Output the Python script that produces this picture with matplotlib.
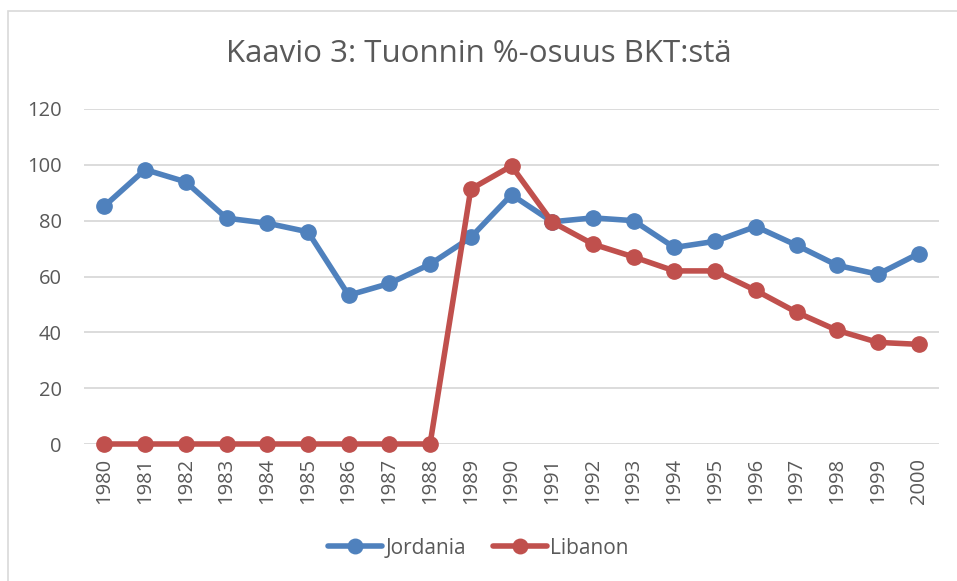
import matplotlib.pyplot as plt
from matplotlib.patches import Rectangle

years = [str(y) for y in range(1980, 2001)]
jordania = [85.2, 98.3, 93.9, 80.9, 79.1, 76.0, 53.3, 57.5, 64.4, 74.0, 89.3,
            79.6, 81.0, 80.0, 70.4, 72.6, 77.9, 71.2, 64.0, 60.8, 68.2]
libanon = [0, 0, 0, 0, 0, 0, 0, 0, 0, 91.3, 99.6,
           79.5, 71.6, 67.0, 62.0, 62.0, 55.0, 47.2, 40.7, 36.4, 35.7]

BLUE = "#4F81BD"
RED = "#C0504D"
TXT = "#595959"

plt.rcParams["font.family"] = ["Open Sans", "DejaVu Sans"]

W, H = 957, 581
fig = plt.figure(figsize=(W / 100, H / 100), dpi=100)
ax = fig.add_axes([84 / W, 1 - 444 / H, (939 - 84) / W, (444 - 109) / H])

x = range(len(years))
ax.plot(x, jordania, color=BLUE, lw=4, marker="o", ms=11, label="Jordania",
        solid_capstyle="round", zorder=3, clip_on=False)
ax.plot(x, libanon, color=RED, lw=4, marker="o", ms=11, label="Libanon",
        solid_capstyle="round", zorder=3, clip_on=False)

ax.set_xlim(-0.5, len(years) - 0.5)
ax.set_ylim(0, 120)
ax.set_yticks(range(0, 121, 20))
ax.set_xticks(list(x))
ax.set_xticklabels(years, rotation=90)
ax.grid(axis="y", color="#D9D9D9", lw=1.3)
ax.set_axisbelow(True)
ax.tick_params(axis="both", length=0, labelsize=14.5, colors=TXT)
ax.tick_params(axis="y", pad=16)
ax.tick_params(axis="x", pad=10)
for s in ax.spines.values():
    s.set_visible(False)

fig.text(0.5, 1 - 54 / H, "Kaavio 3: Tuonnin %-osuus BKT:stä", ha="center",
         va="center", fontsize=22.5, color=TXT)

leg = fig.legend(loc="center", bbox_to_anchor=(0.5, 1 - 548 / H), ncol=2,
                 frameon=False, fontsize=15, handlelength=2.6,
                 columnspacing=1.3, handletextpad=0.15, markerscale=0.95)
for t in leg.get_texts():
    t.set_color(TXT)

fig.patches.append(Rectangle((8 / W, -0.05), 1.1, 1.05 - 11 / H,
                             transform=fig.transFigure, fill=False,
                             edgecolor="#D9D9D9", lw=1.2))

fig.savefig("out.png", dpi=100)
